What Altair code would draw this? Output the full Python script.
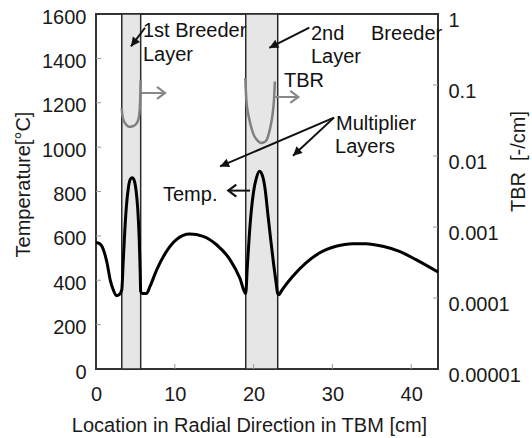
import math
import altair as alt
import pandas as pd

FONT = "Liberation Sans"
INK = "#1a1a1a"

# Temperature distribution across the blanket: position [cm], temperature [degC]
temp_x = [0, 0.4, 0.75, 1.1, 1.4, 1.8, 2.2, 2.6, 2.95, 3.27,
          3.45, 3.65, 3.85, 4.1, 4.35, 4.6, 4.85, 5.1, 5.3, 5.48, 5.6, 5.67,
          5.85, 6.4, 6.85, 7.7, 8.95, 10.2, 11.9, 13.6, 15.3, 17.0, 18.25, 19.0,
          19.2, 19.45, 19.7, 20.0, 20.35, 20.75, 21.15, 21.5, 21.8, 22.15, 22.55, 22.85, 23.06,
          23.25, 23.5, 24.95, 26.65, 28.35, 30.45, 32.55, 34.25, 36.4, 38.5, 40.6, 43.4]
temp_t = [570, 566, 553, 520, 478, 402, 356, 330, 335, 357,
          480, 620, 730, 815, 855, 862, 850, 800, 720, 590, 450, 350,
          340, 340, 372, 447, 530, 583, 608, 598, 560, 493, 410, 340,
          460, 600, 710, 800, 860, 891, 868, 800, 700, 590, 470, 390, 340,
          335, 350, 417, 478, 523, 553, 565, 565, 553, 530, 493, 437]

# Local tritium breeding ratio inside the two breeder layers [1/cm]
tbr1_x = [3.27, 3.3, 3.4, 3.55, 3.8, 4.1, 4.4, 4.75, 5.05, 5.3, 5.45, 5.55, 5.62, 5.67]
tbr1_v = [0.047, 0.042, 0.035, 0.031, 0.028, 0.026, 0.0258, 0.0265, 0.028, 0.031,
          0.036, 0.046, 0.07, 0.119]
tbr2_x = [18.95, 19.0, 19.1, 19.3, 19.6, 20.0, 20.5, 21.0, 21.5, 21.9, 22.2, 22.45, 22.6, 22.7]
tbr2_v = [0.126, 0.09, 0.058, 0.04, 0.028, 0.02, 0.0165, 0.0153, 0.016, 0.02,
          0.028, 0.042, 0.065, 0.112]

# Breeder layer extents [cm]
layer_start = [3.27, 19.0]
layer_end = [5.67, 23.06]

# Axis tick values
x_ticks = [0, 10, 20, 30, 40]
temp_ticks = [0, 200, 400, 600, 800, 1000, 1200, 1400, 1600]
tbr_ticks = [0.00001, 0.0001, 0.001, 0.01, 0.1, 1]

# Annotation labels (left edge, baseline) in data units
note_text = ["1st Breeder", "Layer", "2nd", "Breeder", "Layer", "TBR",
             "Multiplier", "Layers", "Temp."]
note_x = [5.96, 5.96, 27.28, 34.9, 27.28, 23.86, 30.46, 30.33, 8.5]
note_t = [1496, 1386, 1484, 1484, 1380, 1272, 1075, 973, 758]

# Annotation arrows: tail -> tip
arrow_x0 = [6.22, 27.07, 5.58, 22.72, 30.2, 30.2, 19.54]
arrow_t0 = [1538, 1539, 1244, 1226, 1133, 1133, 804]
arrow_x1 = [4.44, 21.99, 8.76, 25.67, 15.74, 25.0, 16.79]
arrow_t1 = [1454, 1447, 1244, 1226, 913, 961, 804]
arrow_col = ["#111111", "#111111", "#888888", "#888888", "#111111", "#111111", "#111111"]
arrow_head = ["solid", "solid", "open", "open", "solid", "solid", "open"]

W, H = 342, 355
X_MAX, T_MAX = 43.4, 1600
TICK_PX = 5

x_scale = alt.Scale(domain=[0, X_MAX], nice=False, zero=False)
t_scale = alt.Scale(domain=[0, T_MAX], nice=False, zero=False)
r_scale = alt.Scale(type="log", domain=[0.00001, 1], nice=False)

x_axis = alt.Axis(values=x_ticks, title="Location in Radial Direction in TBM [cm]",
                  ticks=False, tickSize=0, domain=False, grid=False,
                  labelFont=FONT, labelFontSize=20, labelColor=INK, labelPadding=15,
                  labelFlush=False, labelOverlap=False,
                  titleFont=FONT, titleFontSize=20, titleFontWeight="normal", titleColor=INK,
                  titleX=153, titleY=62, titleAlign="center", titleBaseline="alphabetic")
t_axis = alt.Axis(values=temp_ticks, format="d", title="Temperature[°C]", orient="left",
                  ticks=False, tickSize=0, domain=False, grid=False,
                  labelFont=FONT, labelFontSize=20, labelColor=INK, labelPadding=10,
                  labelOffset=3, labelFlush=False, labelOverlap=False,
                  titleFont=FONT, titleFontSize=20, titleFontWeight="normal", titleColor=INK,
                  titleAngle=270, titleX=-73, titleY=170, titleAlign="center",
                  titleBaseline="middle")
r_axis = alt.Axis(values=tbr_ticks, format=".5~f", title="TBR\u00a0\u00a0[-/cm]", orient="right",
                  ticks=False, tickSize=0, domain=False, grid=False,
                  labelFont=FONT, labelFontSize=20, labelColor=INK, labelPadding=10,
                  labelOffset=6, labelFlush=False, labelOverlap=False,
                  titleFont=FONT, titleFontSize=20, titleFontWeight="normal", titleColor=INK,
                  titleAngle=270, titleX=80, titleY=147, titleAlign="center",
                  titleBaseline="middle")


def X(field):
    return alt.X(field, type="quantitative", scale=x_scale, axis=x_axis)


def T(field):
    return alt.Y(field, type="quantitative", scale=t_scale, axis=t_axis)


def R(field):
    return alt.Y(field, type="quantitative", scale=r_scale, axis=r_axis)


temp_df = pd.DataFrame({"x": temp_x, "t": temp_t})
tbr_df = pd.concat([
    pd.DataFrame({"x": tbr1_x, "v": tbr1_v, "layer": "1st"}),
    pd.DataFrame({"x": tbr2_x, "v": tbr2_v, "layer": "2nd"}),
])
band_df = pd.DataFrame({"x0": layer_start, "x1": layer_end,
                        "t0": [0] * len(layer_start), "t1": [T_MAX] * len(layer_start)})
note_df = pd.DataFrame({"x": note_x, "t": note_t, "text": note_text})

px_x = W / X_MAX
px_t = H / T_MAX
arrow_df = pd.DataFrame({"x0": arrow_x0, "t0": arrow_t0, "x1": arrow_x1, "t1": arrow_t1,
                         "col": arrow_col, "head": arrow_head})
arrow_df["ang"] = [
    math.degrees(math.atan2(-(b1 - b0) * px_t, (a1 - a0) * px_x)) % 360
    for a0, b0, a1, b1 in zip(arrow_x0, arrow_t0, arrow_x1, arrow_t1)
]

# Inward tick marks on the frame
tick_dx = TICK_PX / px_x
tick_dt = TICK_PX / px_t
xtick_df = pd.DataFrame({"x": x_ticks[1:], "t0": 0, "t1": tick_dt})
ttick_df = pd.DataFrame({"t": temp_ticks[1:-1], "x0": 0, "x1": tick_dx})
rtick_df = pd.DataFrame({"v": tbr_ticks[1:-1], "x0": X_MAX - tick_dx, "x1": X_MAX})

bands = alt.Chart(band_df).mark_rect(fill="#e6e6e6", stroke="#2a2a2a", strokeWidth=1.5).encode(
    x=X("x0"), x2="x1", y=T("t0"), y2="t1")

temp_line = alt.Chart(temp_df).mark_line(color="#000000", strokeWidth=3,
                                         interpolate="monotone").encode(
    x=X("x"), y=T("t"))

xticks = alt.Chart(xtick_df).mark_rule(color="#9a9a9a", strokeWidth=1).encode(
    x=X("x"), y=T("t0"), y2="t1")
tticks = alt.Chart(ttick_df).mark_rule(color="#9a9a9a", strokeWidth=1).encode(
    x=X("x0"), x2="x1", y=T("t"))

notes = alt.Chart(note_df).mark_text(align="left", baseline="alphabetic", font=FONT,
                                     fontSize=20, color="#111111").encode(
    x=X("x"), y=T("t"), text="text:N")

arrow_lines = alt.Chart(arrow_df).mark_rule(strokeWidth=2).encode(
    x=X("x0"), x2="x1", y=T("t0"), y2="t1", color=alt.Color("col:N", scale=None))

heads_solid = alt.Chart(arrow_df).transform_filter(alt.datum.head == "solid").mark_point(
    shape="M-1,-0.5L0,0L-1,0.5Z", filled=True, size=324, opacity=1).encode(
    x=X("x1"), y=T("t1"), angle=alt.Angle("ang:Q", scale=None),
    color=alt.Color("col:N", scale=None))

heads_open = alt.Chart(arrow_df).transform_filter(alt.datum.head == "open").mark_point(
    shape="M-1,-0.75L0,0L-1,0.75", filled=False, size=256, strokeWidth=2.2, opacity=1).encode(
    x=X("x1"), y=T("t1"), angle=alt.Angle("ang:Q", scale=None),
    color=alt.Color("col:N", scale=None))

temp_part = alt.layer(bands, xticks, tticks, temp_line, arrow_lines, heads_solid,
                      heads_open, notes)

tbr_line = alt.Chart(tbr_df).mark_line(color="#808080", strokeWidth=2.5,
                                       interpolate="monotone").encode(
    x=X("x"), y=R("v"), detail="layer:N")
rticks = alt.Chart(rtick_df).mark_rule(color="#9a9a9a", strokeWidth=1).encode(
    x=X("x0"), x2="x1", y=R("v"))

tbr_part = alt.layer(rticks, tbr_line)

chart = alt.layer(temp_part, tbr_part).resolve_scale(y="independent").properties(
    width=W, height=H,
    autosize=alt.AutoSizeParams(type="none"),
    padding={"left": 96, "top": 14, "right": 94, "bottom": 69},
    background="white",
).configure_view(stroke="#333333", strokeWidth=2)

chart.save("out.html", embed_options={"renderer": "svg", "actions": False})
